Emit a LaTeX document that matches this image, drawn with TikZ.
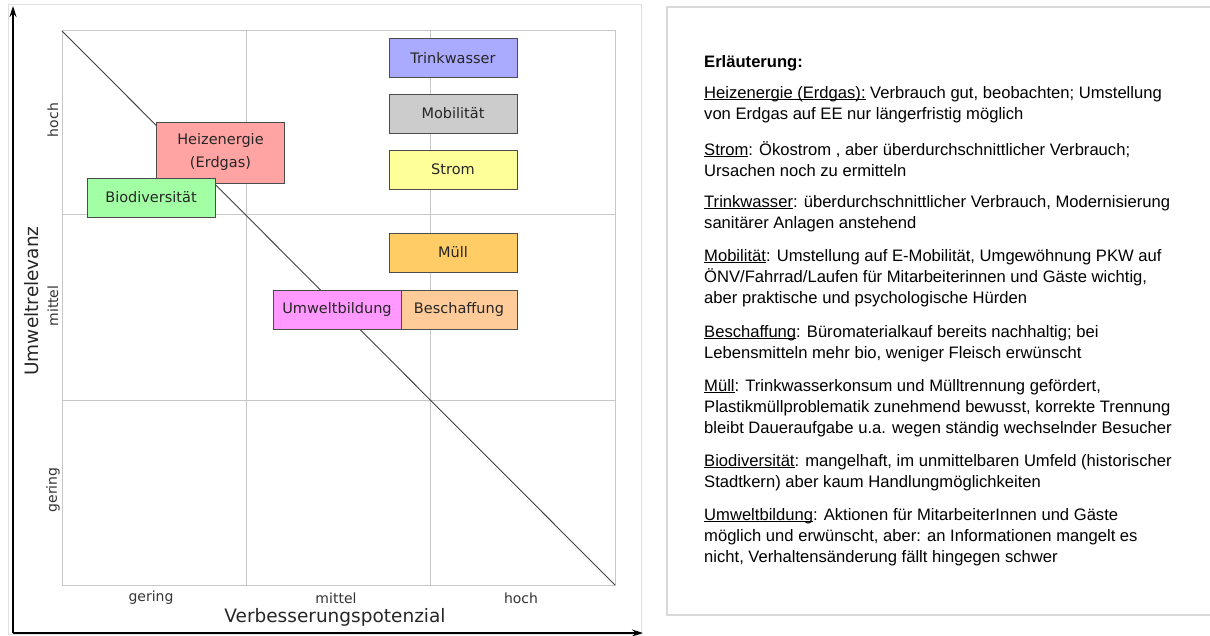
\documentclass[tikz,border=0pt]{standalone}
\usepackage{fontspec}
\setmainfont{Liberation Sans}
\newfontfamily\verdana{DejaVu Sans}
\usetikzlibrary{arrows.meta}

\definecolor{trinkblau}{HTML}{AAAAFF}
\definecolor{mobgrau}{HTML}{CCCCCC}
\definecolor{stromgelb}{HTML}{FFFF99}
\definecolor{muellorange}{HTML}{FFCC66}
\definecolor{beschpfirsich}{HTML}{FFCC99}
\definecolor{umwrosa}{HTML}{FF99FF}
\definecolor{heizrot}{HTML}{FFA3A3}
\definecolor{biogruen}{HTML}{A3FFA3}

\newcommand{\unterstrichen}[1]{\setbox0=\hbox{#1}\rlap{\rule[-1.6pt]{\wd0}{0.8pt}}\box0\relax}

\begin{document}
\begin{tikzpicture}[x=1pt, y=-1pt,
	feld/.style={draw=black!70, fill=#1, line width=0.8pt, minimum width=128pt, minimum height=39pt, inner sep=0pt, align=center, text=black!85, font=\verdana\fontsize{14.5}{23}\selectfont},
	stufe/.style={text=black!80, font=\verdana\fontsize{14}{16}\selectfont},
	titel/.style={text=black!85, font=\verdana\fontsize{18.5}{20}\selectfont},
	raster/.style={draw=black!22, line width=1pt},
	achse/.style={line width=1.6pt, -{Stealth[length=11pt, width=7pt]}},
	erkl/.style={anchor=north west, yshift=15pt, align=left, inner sep=0pt, font=\fontsize{16.6}{21}\selectfont, execute at begin node={\rule{0pt}{15pt}}}]

		\useasboundingbox (0,0) rectangle (1210,636);

		% Rahmen
		\draw[draw=black!12, line width=1pt] (8,5) rectangle (641,634);
		\draw[draw=black!15, line width=1.2pt] (667,7) rectangle (1215,615);

		% Raster
		\draw[raster] (62,31) rectangle (615,585);
		\foreach \k in {246,430} \draw[raster] (\k,31) -- (\k,585);
		\foreach \k in {215,400} \draw[raster] (62,\k) -- (615,\k);

		\coordinate (gol) at (62,31);
		\coordinate (gur) at (615,585);
		\draw[line width=0.9pt, black!75] (gol) -- (gur);

		% Achsen
		\coordinate (ursprung) at (13,633);
		\coordinate (yende) at (13,6);
		\coordinate (xende) at (643,633);
		\draw[achse] (ursprung) -- (yende);
		\draw[achse] (ursprung) -- (xende);

		\node[stufe, rotate=90] (yhoch) at (53,120) {hoch};
		\node[stufe, rotate=90] (ymittel) at (53,306) {mittel};
		\node[stufe, rotate=90] (ygering) at (53,490) {gering};
		\node[titel, rotate=90] (ytitel) at (32,301) {Umweltrelevanz};

		\node[stufe] (xgering) at (151,598) {gering};
		\node[stufe] (xmittel) at (336,598) {mittel};
		\node[stufe] (xhoch) at (521,598) {hoch};
		\node[titel] (xtitel) at (335,617) {Verbesserungspotenzial};

		% Felder
		\node[feld=trinkblau] (trink) at (453,58) {Trinkwasser};
		\node[feld=mobgrau] (mob) at (453,113.5) {Mobilität};
		\node[feld=stromgelb] (strom) at (453,169.5) {Strom};
		\node[feld=muellorange] (muell) at (453,252.5) {Müll};
		\node[feld=heizrot, minimum height=61pt] (heiz) at (220.5,152.5) {Heizenergie\\(Erdgas)};
		\node[feld=biogruen] (bio) at (151,197.5) {Biodiversität};
		\node[feld=umwrosa] (umw) at (337,309.5) {Umweltbildung};
		\node[feld=beschpfirsich, minimum width=116pt] (besch) at (459,309.5) {Beschaffung};

		% Erlaeuterung
		\node[erkl] (erl) at (704,67) {\textbf{Erläuterung:}};
		\node[erkl] (eheiz) at (704,101) {\unterstrichen{Heizenergie (Erdgas):} Verbrauch gut, beobachten; Umstellung\\von Erdgas auf EE nur längerfristig möglich};
		\node[erkl] (estrom) at (704,156) {\unterstrichen{Strom}: Ökostrom , aber überdurchschnittlicher Verbrauch;\\Ursachen noch zu ermitteln};
		\node[erkl] (etrink) at (704,210) {\unterstrichen{Trinkwasser}: überdurchschnittlicher Verbrauch, Modernisierung\\sanitärer Anlagen anstehend};
		\node[erkl] (emob) at (704,264) {\unterstrichen{Mobilität}: Umstellung auf E-Mobilität, Umgewöhnung PKW auf\\ÖNV/Fahrrad/Laufen für Mitarbeiterinnen und Gäste wichtig,\\aber praktische und psychologische Hürden};
		\node[erkl] (ebesch) at (704,340) {\unterstrichen{Beschaffung}: Büromaterialkauf bereits nachhaltig; bei\\Lebensmitteln mehr bio, weniger Fleisch erwünscht};
		\node[erkl] (emuell) at (704,394) {\unterstrichen{Müll}: Trinkwasserkonsum und Mülltrennung gefördert,\\Plastikmüllproblematik zunehmend bewusst, korrekte Trennung\\bleibt Daueraufgabe u.a. wegen ständig wechselnder Besucher};
		\node[erkl] (ebio) at (704,469) {\unterstrichen{Biodiversität}: mangelhaft, im unmittelbaren Umfeld (historischer\\Stadtkern) aber kaum Handlungmöglichkeiten};
		\node[erkl] (eumw) at (704,523) {\unterstrichen{Umweltbildung}: Aktionen für MitarbeiterInnen und Gäste\\möglich und erwünscht, aber: an Informationen mangelt es\\nicht, Verhaltensänderung fällt hingegen schwer};

	\end{tikzpicture}
\end{document}
